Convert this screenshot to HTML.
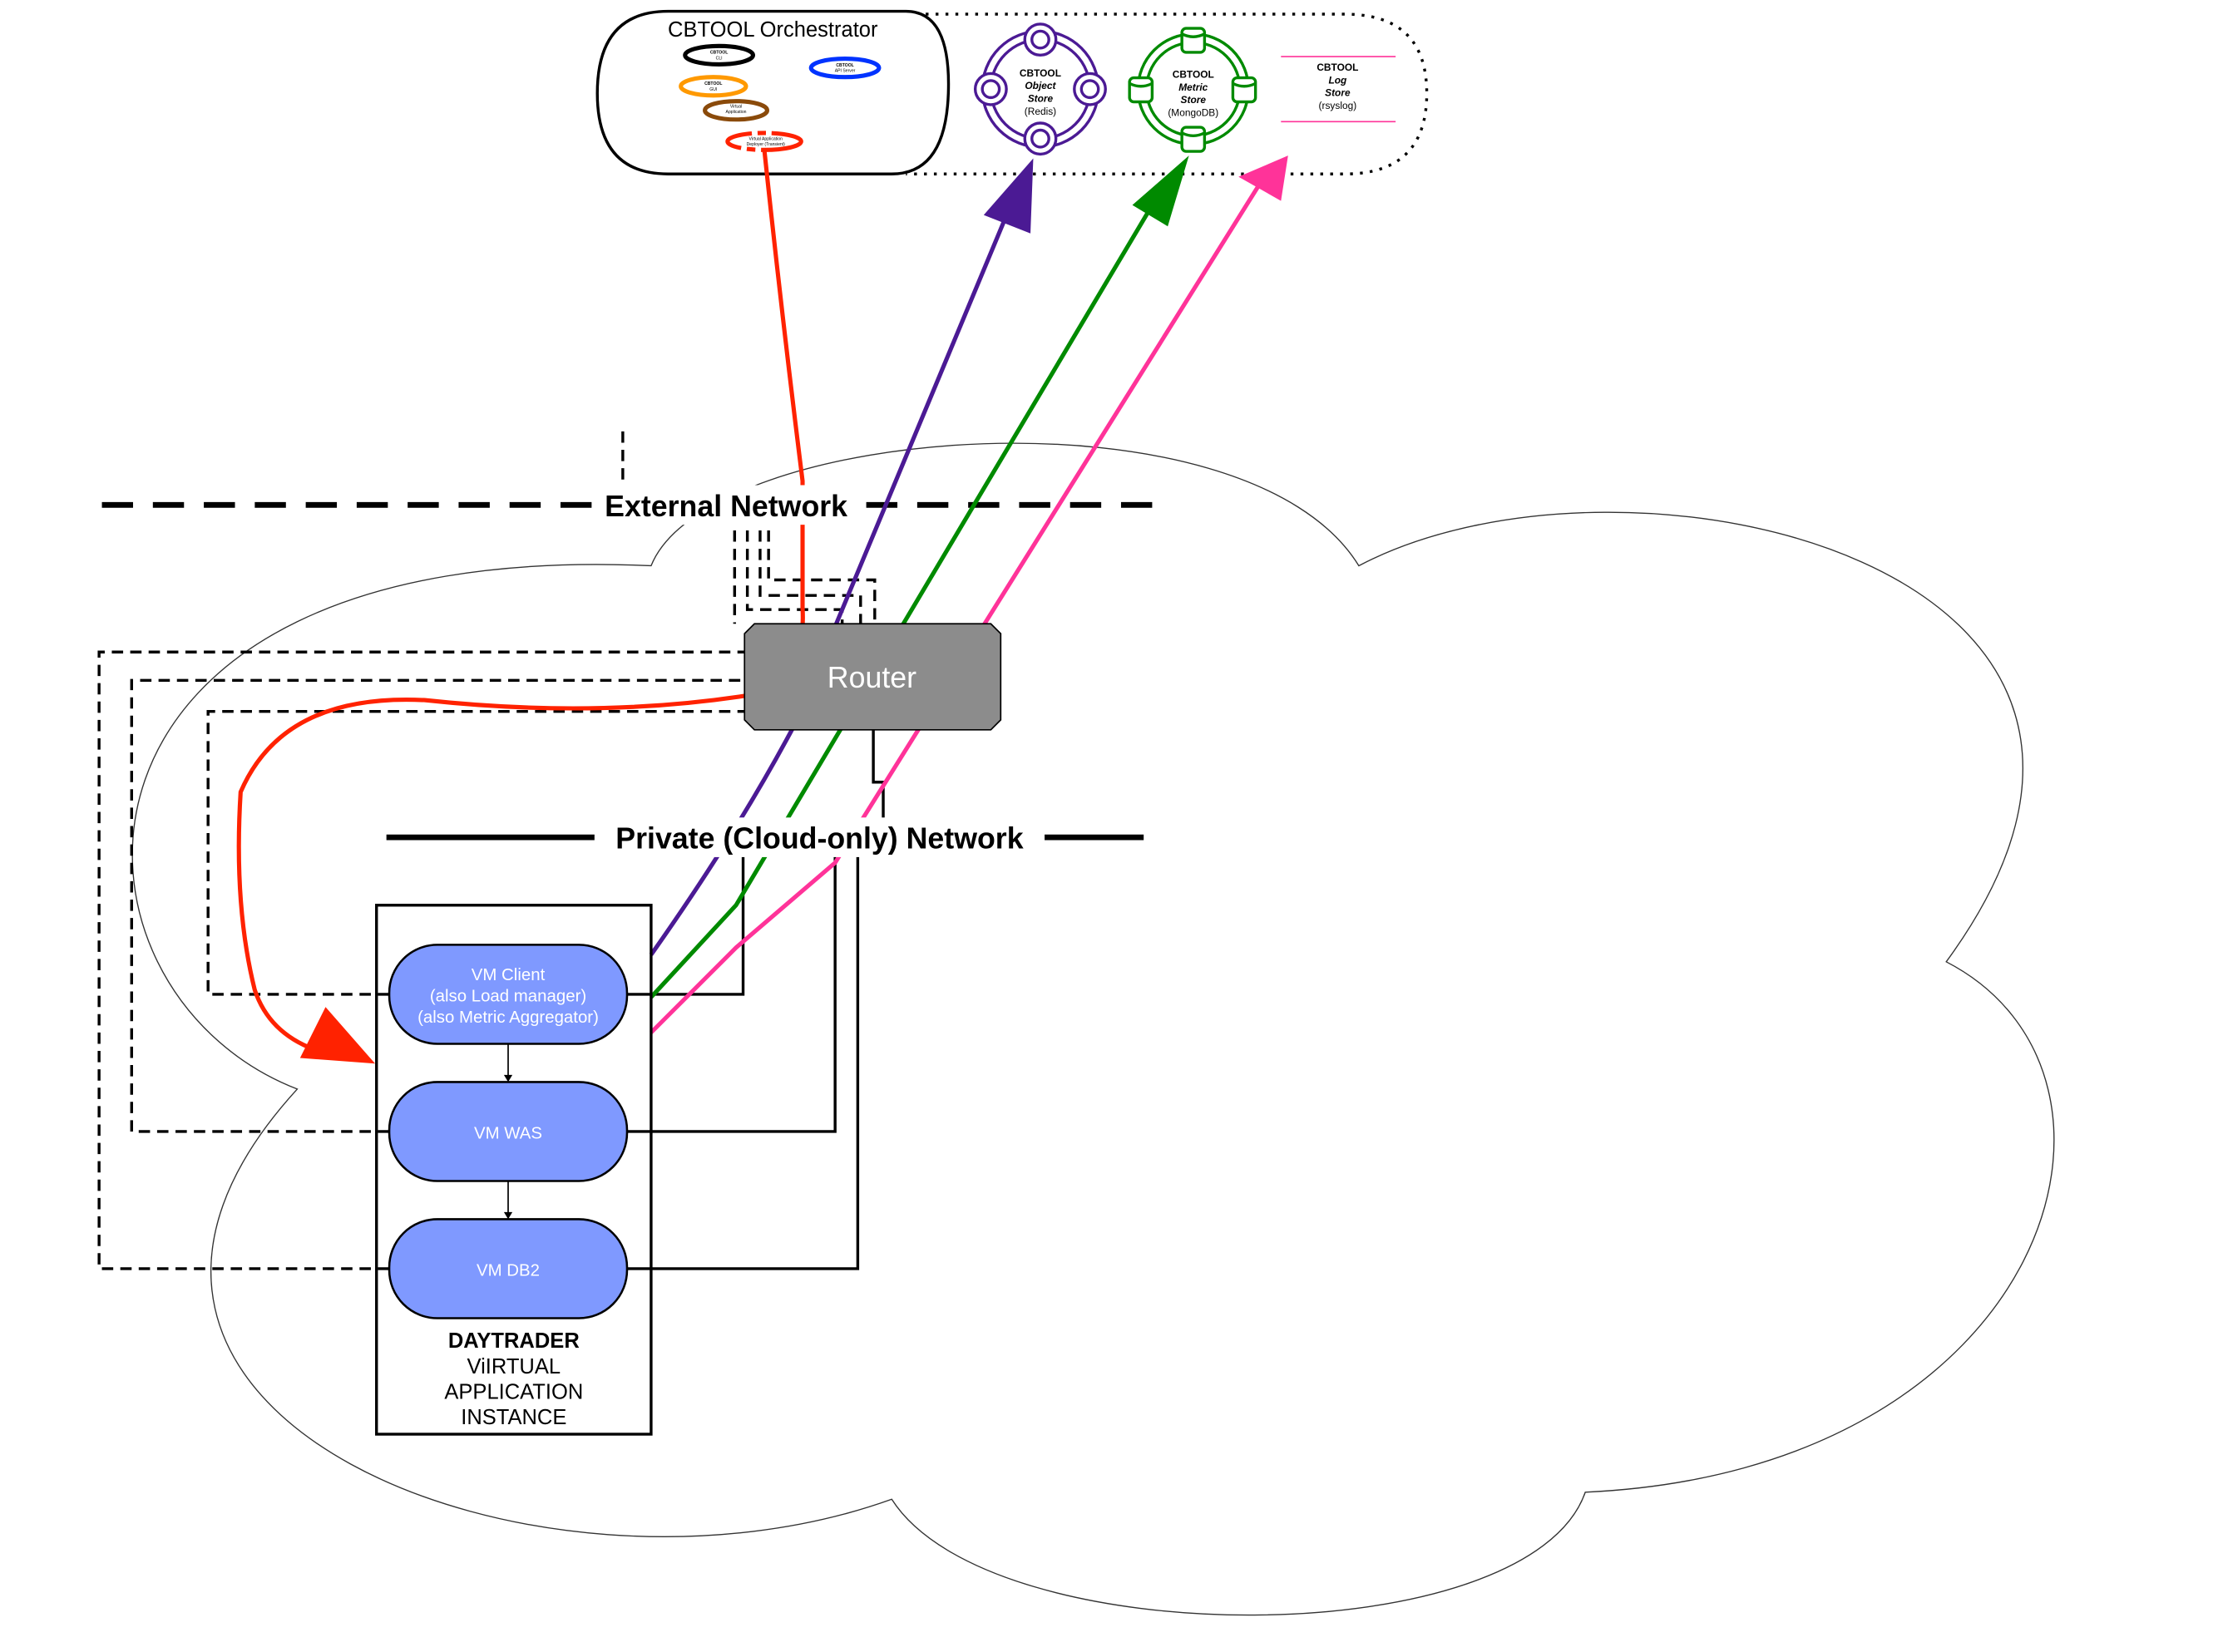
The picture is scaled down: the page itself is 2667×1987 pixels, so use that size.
<!DOCTYPE html>
<html><head><meta charset="utf-8"><style>html,body{margin:0;padding:0;background:#fff}svg{display:block}</style></head>
<body>
<svg width="2667" height="1987" viewBox="0 0 1567 1168" preserveAspectRatio="none" xmlns="http://www.w3.org/2000/svg" font-family="Liberation Sans, sans-serif">
<rect width="1567" height="1168" fill="#fff"/>
<!-- cloud -->
<path d="M460,400 C500,300 880,270 960,400 C1150,300 1580,400 1375,680 C1530,760 1450,1040 1120,1055 C1080,1170 700,1170 630,1060 C380,1150 0,1000 210,770 C30,700 20,380 460,400 Z" fill="#fff" stroke="#333" stroke-width="0.8"/>
<!-- orchestrator -->
<path d="M640,10 L950,10 Q1008,10 1008,66 Q1008,123 950,123 L640,123" fill="none" stroke="#000" stroke-width="2" stroke-dasharray="2,5"/>
<path d="M472,8 L640,8 Q672,8 670,66 Q668,123 630,123 L472,123 Q422,123 422,66 Q422,8 472,8 Z" fill="#fff" stroke="#000" stroke-width="2"/>
<text x="546" y="26" font-size="15" text-anchor="middle">CBTOOL Orchestrator</text>
<ellipse cx="508" cy="39" rx="24" ry="6.5" fill="#fff" stroke="#000" stroke-width="3"/>
<text x="508" y="38" font-size="3" text-anchor="middle" font-weight="bold">CBTOOL</text><text x="508" y="42" font-size="3" text-anchor="middle">CLI</text>
<ellipse cx="597" cy="48" rx="24" ry="6.5" fill="#fff" stroke="#0033ff" stroke-width="3"/>
<text x="597" y="47" font-size="3" text-anchor="middle" font-weight="bold">CBTOOL</text><text x="597" y="51" font-size="3" text-anchor="middle">API Server</text>
<ellipse cx="504" cy="61" rx="23" ry="6.5" fill="#fff" stroke="#ff9900" stroke-width="3"/>
<text x="504" y="60" font-size="3" text-anchor="middle" font-weight="bold">CBTOOL</text><text x="504" y="64" font-size="3" text-anchor="middle">GUI</text>
<ellipse cx="520" cy="78" rx="22" ry="6.5" fill="#fff" stroke="#8a4a0a" stroke-width="3"/>
<text x="520" y="76" font-size="3" text-anchor="middle">Virtual</text><text x="520" y="80" font-size="3" text-anchor="middle">Application</text>
<ellipse cx="540" cy="100" rx="26" ry="6" fill="#fff" stroke="#ff2200" stroke-width="3" stroke-dasharray="30,4,6,4"/>
<text x="541" y="99" font-size="3" text-anchor="middle">Virtual Application</text><text x="541" y="103" font-size="3" text-anchor="middle">Deployer (Transient)</text>
<!-- object store -->
<g stroke="#4b1a94" stroke-width="2" fill="#fff">
<circle cx="735" cy="63" r="41"/><circle cx="735" cy="63" r="35"/>
<circle cx="735" cy="28" r="11"/><circle cx="735" cy="28" r="6"/>
<circle cx="735" cy="98" r="11"/><circle cx="735" cy="98" r="6"/>
<circle cx="700" cy="63" r="11"/><circle cx="700" cy="63" r="6"/>
<circle cx="770" cy="63" r="11"/><circle cx="770" cy="63" r="6"/>
</g>
<g font-size="7" text-anchor="middle" font-weight="bold"><text x="735" y="54">CBTOOL</text><text x="735" y="63" font-style="italic">Object</text><text x="735" y="72" font-style="italic">Store</text><text x="735" y="81" font-weight="normal">(Redis)</text></g>
<!-- metric store -->
<g stroke="#008a00" stroke-width="2" fill="#fff">
<circle cx="843" cy="63" r="39"/><circle cx="843" cy="63" r="33"/>
<rect x="835" y="20" width="16" height="17" rx="3"/><rect x="835" y="90" width="16" height="17" rx="3"/>
<rect x="798" y="55" width="16" height="17" rx="3"/><rect x="871" y="55" width="16" height="17" rx="3"/>
<path d="M835,24 Q843,28 851,24 M835,94 Q843,98 851,94 M798,59 Q806,63 814,59 M871,59 Q879,63 887,59" fill="none"/>
</g>
<g font-size="7" text-anchor="middle" font-weight="bold"><text x="843" y="55">CBTOOL</text><text x="843" y="64" font-style="italic">Metric</text><text x="843" y="73" font-style="italic">Store</text><text x="843" y="82" font-weight="normal">(MongoDB)</text></g>
<!-- log store -->
<line x1="905" y1="40" x2="986" y2="40" stroke="#ff3399"/><line x1="905" y1="86" x2="986" y2="86" stroke="#ff3399"/>
<g font-size="7" text-anchor="middle" font-weight="bold"><text x="945" y="50">CBTOOL</text><text x="945" y="59" font-style="italic">Log</text><text x="945" y="68" font-style="italic">Store</text><text x="945" y="77" font-weight="normal">(rsyslog)</text></g>
<!-- dashed lines -->
<g fill="none" stroke="#000" stroke-width="2" stroke-dasharray="8,5">
<line x1="440" y1="305" x2="440" y2="340"/>
<path d="M275,703 H147 V503 H526"/>
<path d="M275,800 H93 V481 H526"/>
<path d="M275,897 H70 V461 H526"/>
<path d="M519,375 V441"/><path d="M528,375 V431 H595 V441"/>
<path d="M537,375 V421 H608 V441"/><path d="M543,375 V410 H618 V441"/>
</g>
<!-- solid links -->
<g fill="none" stroke="#000" stroke-width="2">
<path d="M443,703 H525 V605"/><path d="M443,800 H590 V605"/><path d="M443,897 H606 V605"/>
<path d="M617,516 V553 H624 V585"/>
</g>
<!-- networks -->
<line x1="72" y1="357" x2="825" y2="357" stroke="#000" stroke-width="4" stroke-dasharray="22,14"/>
<line x1="273" y1="592" x2="808" y2="592" stroke="#000" stroke-width="4"/>
<!-- colored lines -->
<g fill="none" stroke-width="3">
<path d="M540,106 Q552,220 567,340 V430 Q570,485 526,492 Q420,508 300,495 Q200,490 170,560 Q165,640 180,700 Q190,730 222,742" stroke="#ff2200"/>
<path d="M460,675 Q520,590 560,515 L712,150" stroke="#4b1a94"/>
<path d="M460,705 L520,640 L820,135" stroke="#008a00"/>
<path d="M460,730 L520,670 L590,610 L890,130" stroke="#ff3399"/>
</g>
<polygon points="265,752 212,748 230,712" fill="#ff2200"/>
<polygon points="730,112 695,152 728,165" fill="#4b1a94"/>
<polygon points="840,110 800,145 825,160" fill="#008a00"/>
<polygon points="910,110 875,125 905,142" fill="#ff3399"/>
<!-- labels -->
<rect x="418" y="343" width="190" height="28" fill="#fff"/>
<text x="513" y="365" font-size="21" font-weight="bold" text-anchor="middle">External Network</text>
<rect x="420" y="578" width="318" height="28" fill="#fff"/>
<text x="579" y="600" font-size="21" font-weight="bold" text-anchor="middle">Private (Cloud-only) Network</text>
<!-- router -->
<path d="M533,441 H700 L707,448 V509 L700,516 H533 L526,509 V448 Z" fill="#8c8c8c" stroke="#000" stroke-width="1"/>
<text x="616" y="486" font-size="21" fill="#fff" text-anchor="middle">Router</text>
<!-- daytrader -->
<rect x="266" y="640" width="194" height="374" fill="none" stroke="#000" stroke-width="2"/>
<g fill="#7f99ff" stroke="#000" stroke-width="1.5">
<rect x="275" y="668" width="168" height="70" rx="34"/>
<rect x="275" y="765" width="168" height="70" rx="34"/>
<rect x="275" y="862" width="168" height="70" rx="34"/>
</g>
<g fill="#fff" font-size="12" text-anchor="middle">
<text x="359" y="693">VM Client</text><text x="359" y="708">(also Load manager)</text><text x="359" y="723">(also Metric Aggregator)</text>
<text x="359" y="805">VM WAS</text><text x="359" y="902">VM DB2</text>
</g>
<g stroke="#000" stroke-width="1"><line x1="359" y1="738" x2="359" y2="762"/><line x1="359" y1="835" x2="359" y2="859"/></g>
<polygon points="356,760 362,760 359,765" fill="#000"/><polygon points="356,857 362,857 359,862" fill="#000"/>
<g font-size="15" text-anchor="middle"><text x="363" y="953" font-weight="bold">DAYTRADER</text><text x="363" y="971">ViIRTUAL</text><text x="363" y="989">APPLICATION</text><text x="363" y="1007">INSTANCE</text></g>
</svg>
</body></html>
